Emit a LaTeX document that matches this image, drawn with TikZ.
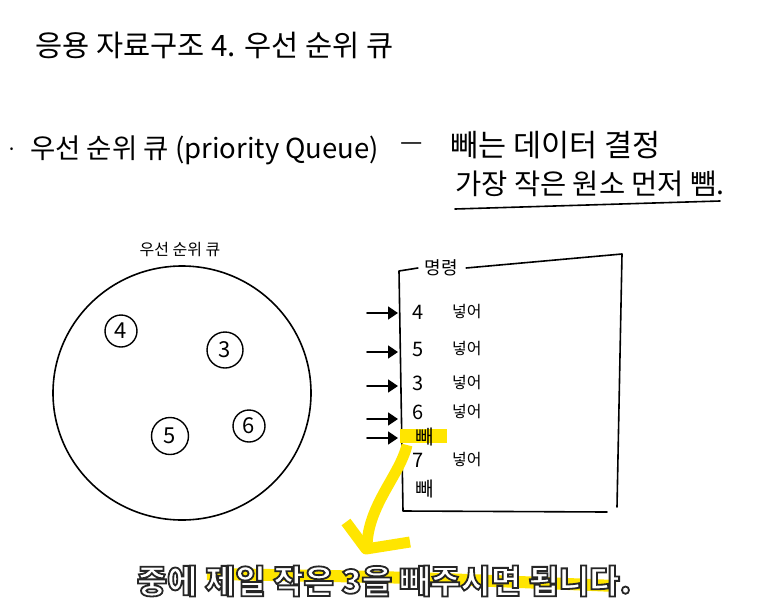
\documentclass[tikz,border=0pt]{standalone}
\usepackage{fontspec}
\setmainfont{Noto Sans CJK KR}
\usetikzlibrary{arrows.meta}
\definecolor{marker}{HTML}{FFE500}
\newcommand{\outlined}[1]{\special{pdf:literal direct 2 Tr 1.8 w 0.15 G}#1\special{pdf:literal direct 0 Tr}}

\begin{document}
\begin{tikzpicture}[x=1pt,y=-1pt,
    pen/.style={line width=1.6pt,line cap=round,line join=round},
    hand/.style={inner sep=0pt,anchor=west},
    num/.style={draw,circle,line width=1.4pt,inner sep=0pt,font=\fontsize{22}{22}\selectfont},
    cmd/.style={pen,-{Triangle[length=10pt,width=13pt]}},
    digit/.style={hand,font=\fontsize{20}{20}\selectfont},
    word/.style={hand,font=\fontsize{16}{16}\selectfont},
    hl/.style={marker,line width=11pt}]

\useasboundingbox (0,0) rectangle (773,597);

% Title
\node[hand,font=\fontsize{29.5}{29.5}\selectfont] (title) at (35,45) {응용 자료구조 4. 우선 순위 큐};

% Definition
\node[hand,font=\fontsize{20}{20}\selectfont] (bullet) at (6,152) {·};
\node[hand,font=\fontsize{27.5}{27.5}\selectfont] (pq) at (30,150) {우선 순위 큐 (priority Queue)};
\node[hand,font=\fontsize{25}{25}\selectfont] (dash) at (400,147) {—};
\node[hand,font=\fontsize{30.5}{30.5}\selectfont] (pop) at (450,145) {빼는 데이터 결정};
\node[hand,font=\fontsize{28.5}{28.5}\selectfont] (rule) at (455,184) {가장 작은 원소 먼저 뺌.};
\draw[pen] (455,209) -- (720,201);

% Queue
\node[font=\fontsize{16}{16}\selectfont] (pqlabel) at (180,250) {우선 순위 큐};
\draw[pen] (182,393) ellipse (129pt and 127pt);
\node[num,minimum size=32pt] (n4) at (121,331) {4};
\node[num,minimum size=36pt] (n3) at (225,350) {3};
\node[num,minimum size=37pt] (n5) at (170,436) {5};
\node[num,minimum size=32pt] (n6) at (249,426) {6};

% Commands
\node[font=\fontsize{18}{18}\selectfont] (cmdhead) at (441,268) {명령};
\draw[pen] ([xshift=-3pt]cmdhead.west) -- (399,271) -- (403,511) -- (607,512);
\draw[pen] ([xshift=5pt]cmdhead.east) -- (622,254) -- (617,507);

\fill[marker] (400,429) rectangle (447,443);

\foreach \d/\y [count=\k] in {4/312,5/349,3/383,6/412,7/460} {
  \node[digit] (d\k) at (412,\y) {\d};
  \node[word] (w\k) at (452,\y) {넣어};
}
\node[word,font=\fontsize{20}{20}\selectfont] (pop1) at (415,437) {빼};
\node[word,font=\fontsize{20}{20}\selectfont] (pop2) at (415,489) {빼};

\foreach \y [count=\k] in {313,352,386,419,438} {
  \coordinate (a\k) at (367,\y);
  \coordinate (b\k) at (398,\y);
  \draw[cmd] (a\k) -- (b\k);
}

% Pointer to caption
\draw[hl] (407,445) .. controls (400,475) and (368,505) .. (367,546);
\draw[hl,line join=round] (346,522) -- (366,549) -- (410,542);

% Caption
\draw[hl,line width=12pt] (207,574) .. controls (400,577) .. (616,586);
\node[font=\fontsize{33}{33}\selectfont\bfseries,text=white] (caption) at (384,581)
  {\outlined{중에 제일 작은 3을 빼주시면 됩니다.}};

\end{tikzpicture}
\end{document}
